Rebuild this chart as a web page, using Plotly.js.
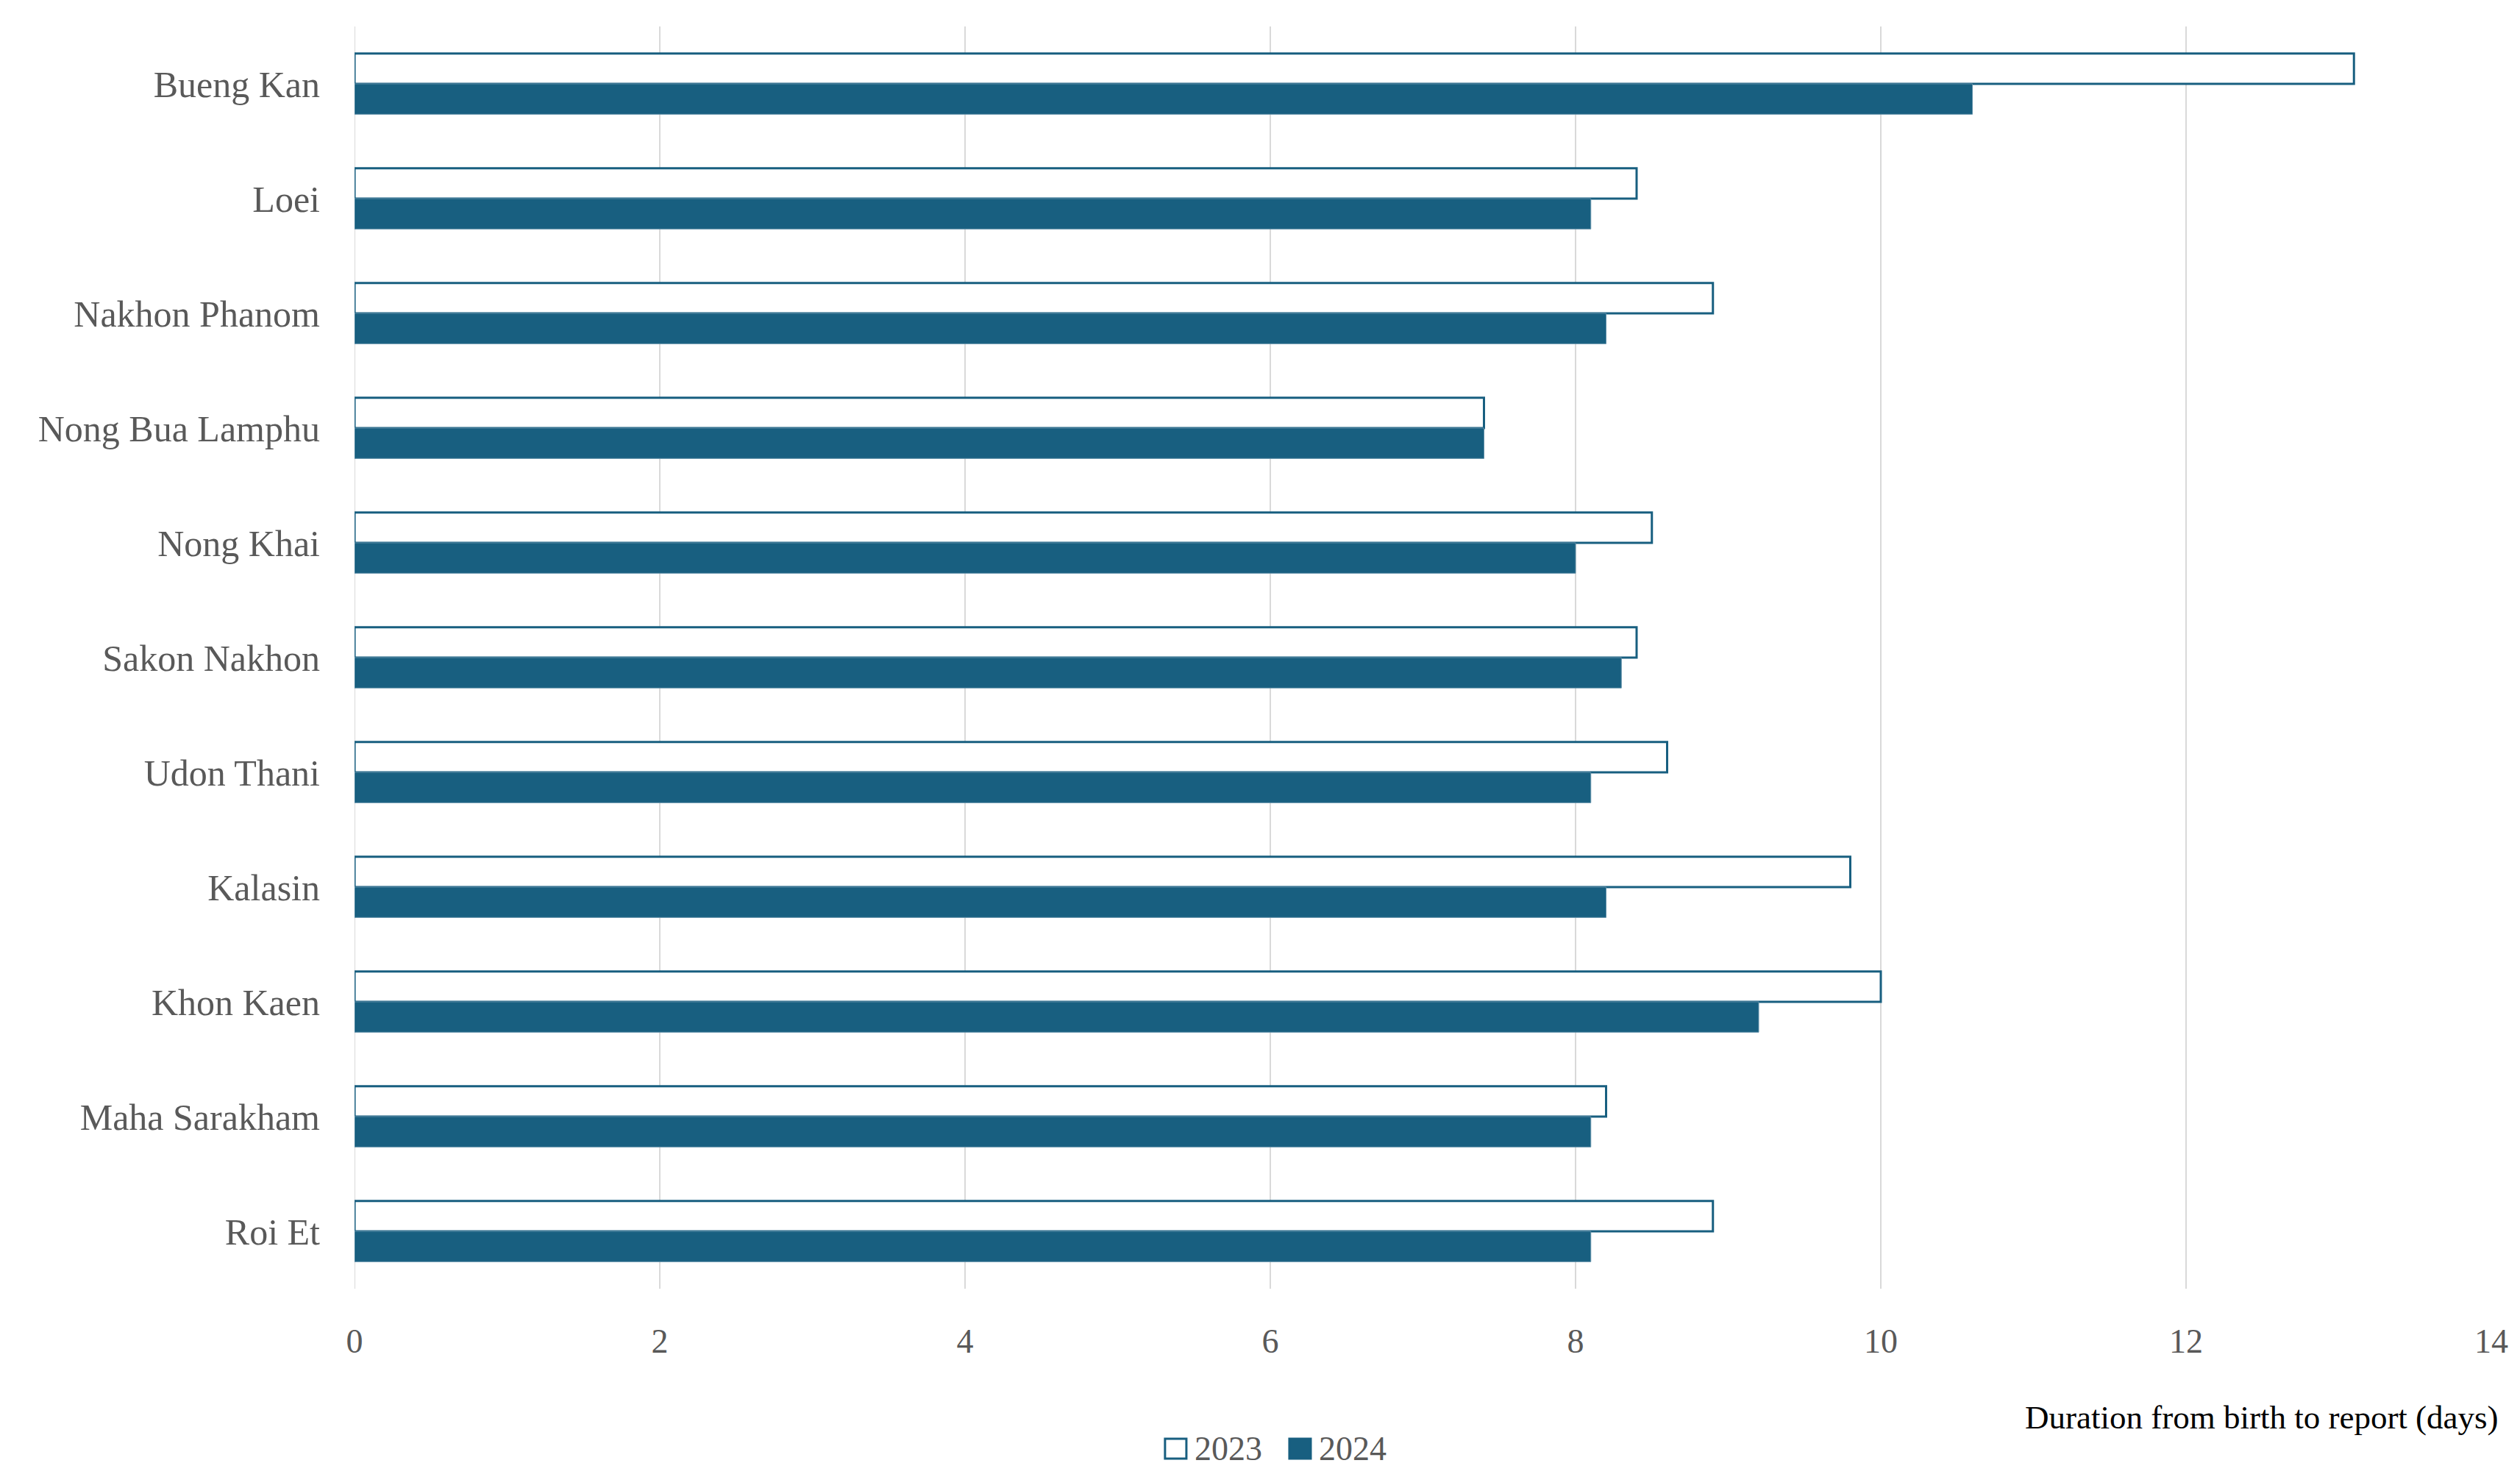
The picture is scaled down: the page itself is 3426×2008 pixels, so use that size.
<!DOCTYPE html>
<html>
<head>
<meta charset="utf-8">
<script src="https://cdn.plot.ly/plotly-3.0.1.min.js"></script>
<style>html,body{margin:0;padding:0;background:#fff;}#chart{width:3426px;height:2008px;}</style>
</head>
<body>
<div id="chart"></div>
<script>
const provinces = ["Bueng Kan", "Loei", "Nakhon Phanom", "Nong Bua Lamphu", "Nong Khai", "Sakon Nakhon", "Udon Thani", "Kalasin", "Khon Kaen", "Maha Sarakham", "Roi Et"];
const values2023 = [13.1, 8.4, 8.9, 7.4, 8.5, 8.4, 8.6, 9.8, 10.0, 8.2, 8.9];
const values2024 = [10.6, 8.1, 8.2, 7.4, 8.0, 8.3, 8.1, 8.2, 9.2, 8.1, 8.1];
const seriesNames = ["2023", "2024"];
const xTicks = [0, 2, 4, 6, 8, 10, 12, 14];
const xTitle = "Duration from birth to report (days)";

const blue = "#185f80";
const fontFam = "Liberation Serif, Times New Roman, serif";

const data = [
  {type: "bar", orientation: "h", name: seriesNames[0], y: provinces, x: values2023,
   marker: {color: "#ffffff", line: {color: blue, width: 3}}},
  {type: "bar", orientation: "h", name: seriesNames[1], y: provinces, x: values2024,
   marker: {color: blue, line: {color: "#5f8fa8", width: 1}}}
];

// legend drawn manually (paper coordinates)
const legendItems = [
  {name: seriesNames[0], fill: "#ffffff", x0: 0.3793, x1: 0.3893, tx: 0.3925},
  {name: seriesNames[1], fill: blue, x0: 0.4375, x1: 0.4475, tx: 0.4507}
];

const shapes = [{type: "line", xref: "x", yref: "paper", x0: 0, x1: 0, y0: 0, y1: 1,
  line: {color: "#d9d9d9", width: 2}, layer: "below"}];
const annotations = [{text: xTitle, xref: "paper", yref: "paper", x: 1.004, y: -0.102,
  xanchor: "right", yanchor: "middle", showarrow: false,
  font: {family: fontFam, size: 45, color: "#000000"}}];
legendItems.forEach(it => {
  shapes.push({type: "rect", xref: "paper", yref: "paper", x0: it.x0, x1: it.x1,
    y0: -0.1346, y1: -0.1189, fillcolor: it.fill, line: {color: blue, width: 3}});
  annotations.push({text: it.name, xref: "paper", yref: "paper", x: it.tx, y: -0.1268,
    xanchor: "left", yanchor: "middle", showarrow: false,
    font: {family: fontFam, size: 46, color: "#595959"}});
});

const layout = {
  width: 3426, height: 2008,
  margin: {l: 482, r: 39, t: 36, b: 256},
  paper_bgcolor: "#ffffff", plot_bgcolor: "#ffffff",
  barmode: "group", bargap: 0.47, bargroupgap: 0,
  font: {family: fontFam, color: "#595959", size: 46},
  xaxis: {range: [0, 14], tickvals: xTicks, ticktext: xTicks.map(String),
    showgrid: true, gridcolor: "#d9d9d9", gridwidth: 2, zeroline: false,
    showline: false, ticks: "", ticklabelstandoff: 40,
    tickfont: {family: fontFam, size: 46, color: "#595959"}},
  yaxis: {autorange: "reversed", showgrid: false, zeroline: false, showline: false,
    ticks: "", ticklabelstandoff: 46,
    tickfont: {family: fontFam, size: 50, color: "#595959"}},
  shapes: shapes,
  annotations: annotations,
  showlegend: false
};

Plotly.newPlot("chart", data, layout, {displayModeBar: false, staticPlot: true});
</script>
</body>
</html>
